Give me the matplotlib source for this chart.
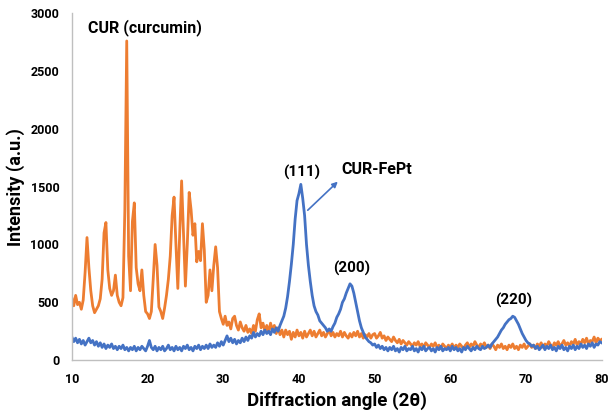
import numpy as np
import matplotlib
matplotlib.use("Agg")
import matplotlib.pyplot as plt

plt.rcParams['font.family'] = ['Roboto', 'DejaVu Sans']

# 2-theta grid, 0.25 deg step
two_theta = np.arange(10, 80.001, 0.25)

# CUR (curcumin), 4 values per degree
cur = [
    540, 470, 560, 480,  500, 440, 520, 760,  1060, 800, 600, 470,
    410, 440, 470, 530,  700, 1100, 1190, 780,  620, 560, 600, 735,
    560, 500, 470, 540,  1300, 2760, 900, 600,  1200, 1360, 800, 660,
    600, 780, 560, 420,  400, 360, 420, 700,  1000, 820, 460, 420,
    360, 450, 560, 700,  900, 1250, 1410, 1000,  620, 1100, 1550, 1100,
    640, 1000, 1450, 1300,  1080, 1180, 850, 940,  860, 1180, 950, 500,
    560, 780, 600, 820,  980, 800, 420, 360,  310, 380, 300, 330,
    270, 360, 380, 300,  260, 330, 280, 250,  300, 240, 270, 230,
    300, 250, 350, 400,  280, 320, 250, 300,  240, 320, 260, 300,
    230, 280, 220, 260,  200, 260, 220, 250,  180, 240, 200, 260,
    210, 240, 190, 250,  200, 230, 260, 210,  250, 200, 230, 260,
    210, 240, 200, 230,  260, 210, 240, 200,  230, 210, 250, 200,
    240, 210, 190, 230,  200, 240, 210, 250,  200, 230, 190, 220,
    200, 230, 190, 220,  230, 190, 210, 240,  190, 210, 170, 200,
    180, 160, 200, 170,  150, 180, 140, 170,  150, 130, 160, 140,
    120, 150, 130, 160,  120, 140, 110, 150,  130, 110, 140, 120,
    150, 110, 130, 100,  140, 120, 100, 130,  110, 140, 100, 130,
    110, 140, 120, 100,  130, 150, 110, 140,  120, 160, 130, 110,
    140, 120, 150, 110,  130, 100, 140, 120,  90, 130, 110, 140,
    100, 120, 90, 130,  110, 140, 100, 120,  90, 130, 110, 140,
    100, 120, 140, 110,  130, 100, 140, 120,  150, 110, 140, 120,
    160, 130, 110, 150,  130, 160, 120, 140,  170, 130, 150, 120,
    160, 140, 180, 130,  160, 140, 180, 150,  190, 140, 170, 160,
    200, 150, 190, 170,  180,
]

# CUR-FePt
fept = [
    200, 160, 190, 150,  180, 140, 170, 130,  160, 190, 150, 170,
    130, 160, 120, 150,  110, 140, 100, 130,  110, 140, 100, 120,
    90, 120, 100, 130,  90, 110, 80, 110,  90, 120, 80, 110,
    90, 120, 100, 80,  120, 170, 110, 90,  120, 80, 110, 90,
    120, 80, 100, 130,  90, 110, 80, 120,  90, 110, 80, 120,
    100, 130, 90, 110,  80, 120, 100, 130,  90, 120, 100, 130,
    100, 140, 110, 130,  110, 150, 120, 160,  130, 170, 210, 160,
    190, 150, 180, 140,  170, 150, 190, 160,  200, 170, 210, 190,
    240, 200, 230, 210,  250, 220, 260, 230,  250, 220, 270, 240,
    280, 250, 300, 340,  380, 450, 550, 680,  830, 1000, 1220, 1380,
    1440, 1520, 1400, 1250,  1000, 820, 680, 560,  470, 420, 390, 340,
    320, 300, 280, 250,  270, 250, 290, 320,  370, 400, 440, 500,
    530, 580, 620, 660,  640, 580, 500, 420,  340, 280, 240, 200,
    180, 160, 150, 130,  140, 110, 130, 100,  120, 90, 110, 80,
    110, 90, 120, 80,  100, 70, 110, 90,  120, 80, 100, 90,
    120, 80, 100, 70,  110, 90, 120, 80,  100, 110, 80, 100,
    70, 110, 90, 120,  80, 100, 90, 110,  80, 120, 90, 110,
    80, 100, 70, 110,  90, 120, 100, 80,  110, 90, 120, 100,
    90, 120, 100, 110,  130, 110, 140, 160,  180, 200, 230, 260,
    280, 310, 330, 350,  360, 380, 370, 340,  310, 270, 230, 200,
    170, 150, 140, 120,  130, 100, 120, 90,  110, 130, 90, 120,
    100, 130, 90, 110,  80, 120, 100, 130,  90, 110, 80, 120,
    100, 130, 90, 120,  100, 140, 110, 130,  100, 140, 120, 150,
    110, 140, 130, 160,  150,
]

peak_labels = ['(111)', '(200)', '(220)']
peak_pos = [(40.4, 1620), (47.0, 790), (68.4, 520)]

orange = '#ED7D31'
blue = '#4472C4'

fig = plt.figure(figsize=(6.09, 4.13), dpi=100)
ax = fig.add_axes([0.118, 0.128, 0.870, 0.840])

ax.plot(two_theta, cur, color=orange, lw=2.0)
ax.plot(two_theta, fept, color=blue, lw=2.0)

ax.set_xlim(10, 80)
ax.set_ylim(0, 3000)
ax.set_xticks(range(10, 81, 10))
ax.set_yticks(range(0, 3001, 500))

for s in ['top', 'right']:
    ax.spines[s].set_visible(False)
for s in ['left', 'bottom']:
    ax.spines[s].set_color('#BFBFBF')
    ax.spines[s].set_linewidth(1.0)
ax.tick_params(length=0, labelsize=9, pad=9)
for lab in ax.get_xticklabels() + ax.get_yticklabels():
    lab.set_fontweight('bold')

ax.set_xlabel('Diffraction angle (2θ)', fontsize=13.5, fontweight='bold')
ax.set_ylabel('Intensity (a.u.)', fontsize=13, fontweight='bold')
ax.xaxis.set_label_coords(0.5, -0.089)
ax.yaxis.set_label_coords(-0.089, 0.5)

ax.text(12.1, 2880, 'CUR (curcumin)', fontsize=11.5, fontweight='bold', va='center')
for lab, (x, y) in zip(peak_labels, peak_pos):
    ax.text(x, y, lab, fontsize=11, fontweight='bold', ha='center', va='center')

ax.text(45.6, 1650, 'CUR-FePt', fontsize=11.5, fontweight='bold', va='center', ha='left')
ax.annotate('', xy=(45.4, 1560), xytext=(40.9, 1280),
            arrowprops=dict(arrowstyle='-|>', color=blue, lw=1.2, mutation_scale=8))

fig.savefig('out.png', dpi=100)
